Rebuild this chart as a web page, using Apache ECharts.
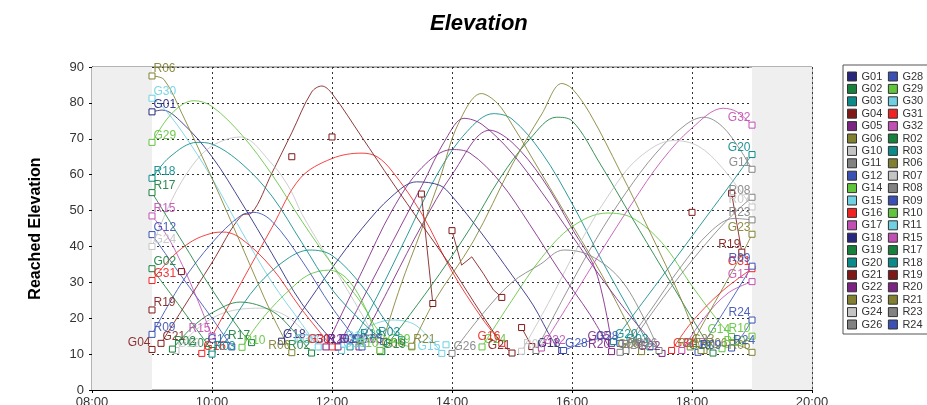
<!DOCTYPE html>
<html><head><meta charset="utf-8">
<script src="https://cdn.jsdelivr.net/npm/echarts@6/dist/echarts.min.js"></script>
<style>html,body{margin:0;padding:0;background:#fff}#c{width:927px;height:405px}</style>
</head><body><div id="c"></div>
<script>
// ---- data (time in decimal hours, elevation in degrees) ----
const yTicks = [0,10,20,30,40,50,60,70,80,90];
const xTicks = [8,10,12,14,16,18,20];
const legendNames = ['G01','G02','G03','G04','G05','G06','G10','G11','G12','G14','G15','G16','G17','G18','G19','G20','G21','G22','G23','G24','G26',
  'G28','G29','G30','G31','G32','R02','R03','R06','R07','R08','R09','R10','R11','R15','R17','R18','R19','R20','R21','R23','R24'];

const G01 = [[[9.0,77.5],[9.17,78],[9.5,74.5],[10.0,65],[10.5,52],[11.0,38],[11.5,24],[12.1,12]]];
const G02 = [[[9.0,33.8],[9.5,22.5],[10.0,11]]];
const G03 = [[[12.3,12],[12.75,26],[13.25,43],[13.75,60],[14.25,72],[14.69,77],[15.0,75.5],[15.5,66],[16.0,52],[16.5,36],[17.0,21],[17.3,12]]];
const G04 = [[[9.0,11.3]],[[9.49,33]],[[11.33,65]],[[12.0,70.5]],[[13.49,54.6],[13.68,24.1]],
  [[14.0,44.4],[14.16,34.8],[14.33,37.1],[14.52,32.5],[14.69,27.9],[14.83,25.8]],[[15.16,17.4],[15.33,12.1]],[[18.0,49.5]]];
const G05 = [[[12.45,12],[13.0,30],[13.5,46],[14.0,60],[14.63,72.4],[15.0,69],[15.5,59],[16.0,45],[16.4,33],[16.66,13]]];
const G06 = [[[12.8,11],[13.13,28.4],[13.5,45],[13.8,59],[14.1,74],[14.49,82.6],[14.75,80],[15.0,74],[15.5,60],[16.0,46],[16.5,32],[17.0,16],[17.16,10.7]]];
const G10 = [[[9.4,11],[9.75,17],[10.2,21.5],[10.8,22.8],[11.2,21],[11.5,17],[11.8,12]]];
const G11 = [[[15.4,11],[15.9,27],[16.4,42],[16.9,55],[17.4,66],[17.9,74],[18.2,76],[18.5,73.5],[18.8,67],[19.0,61.5]]];
const G12 = [[[9.0,43.3],[9.5,31.5],[10.0,20],[10.33,12]]];
const G14 = [[[14.5,12],[15.0,25],[15.5,37],[16.0,45.5],[16.58,49.3],[17.0,48],[17.5,41],[18.0,29],[18.4,20],[18.66,14.9]]];
const G15 = [[[12.16,11],[12.5,16.5],[13.0,19.5],[13.4,18],[13.83,10.2]]];
const G16 = [[[9.83,10.2],[10.0,15],[10.5,30.3],[11.0,45.3],[11.47,59],[12.0,64.5],[12.5,66],[12.75,65],[13.0,61],[13.5,49],[14.0,33],[14.5,20],[14.83,13]]];
const G17 = [[[17.83,11],[18.2,20],[18.6,27],[19.0,30.2]]];
const G18 = [[[11.16,13.6],[11.5,22],[12.0,34],[12.5,45],[13.0,54],[13.41,58],[13.8,57],[14.0,54],[14.5,43.5],[15.0,32],[15.35,23.7],[15.69,13.5],[15.83,11]]];
const G19 = [[[12.83,10.7],[13.3,21],[13.8,32.5],[14.3,45],[14.8,59],[15.3,70],[15.74,76],[16.0,75],[16.47,63],[17.0,48],[17.5,34],[18.0,20],[18.35,10.3]]];
const G20 = [[[16.69,13.5],[17.25,26],[17.75,37.2],[18.25,48.5],[18.65,57.5],[19.0,65.6]]];
const G21 = [[[9.15,13],[9.5,22.3],[10.0,35.5],[10.5,48.7],[10.66,49.3],[11.0,60.5],[11.33,71.7],[11.66,83],[11.83,84.7],[12.0,82.6],[12.5,70.4],[13.0,58],[13.5,46],[14.0,34],[14.5,21],[14.83,13],[15.0,10.3]]];
const G22 = [[[12.1,12],[12.5,25],[13.0,41],[13.5,57],[13.9,70],[14.2,75.7],[14.5,74],[15.0,66],[15.5,55],[16.0,43],[16.5,31],[17.0,20],[17.5,10.2]]];
const G23 = [[[17.97,12],[18.4,25],[18.85,38.4],[19.0,43.4]]];
const G24 = [[[9.0,40],[9.33,53],[9.67,62.5],[10.0,68],[10.47,70.5],[11.0,63],[11.3,56],[11.5,49],[12.0,35],[12.5,21],[12.8,12]]];
const G26 = [[[14.0,10.2],[14.5,21],[15.0,30],[15.47,35],[15.86,39],[16.3,37.5],[16.8,31],[17.2,20],[17.45,11]]];
const G28 = [[[15.86,11],[16.2,13.2],[16.52,14.4],[16.8,13]]];
const G29 = [[[9.0,69],[9.25,75.5],[9.5,79.5],[9.7,80.6],[10.0,79],[10.5,71],[11.0,60],[11.5,47],[12.0,35],[12.5,24],[12.8,16],[13.1,13],[13.33,12]]];
const G30 = [[[9.0,81.3],[9.17,79],[9.5,72],[10.0,59],[10.5,44],[11.0,30],[11.47,19],[11.77,12]]];
const G31 = [[[9.0,30.5],[9.33,37],[9.67,41.5],[10.0,43.7],[10.2,44],[10.5,42],[11.0,34],[11.47,23],[12.0,12]],[[17.66,11],[18.0,19],[18.5,27.5],[19.0,33.8]]];
const G32 = [[[15.49,11.7],[16.0,25.5],[16.5,39],[17.0,52],[17.5,64],[18.0,73],[18.52,78.5],[18.75,77.5],[19.0,73.8]]];
const R02 = [[[9.34,11.4],[9.67,17.5],[10.0,21.5],[10.47,24.5],[11.0,22],[11.33,17],[11.66,10.3]]];
const R03 = [[[10.0,10],[10.33,19],[10.75,29],[11.25,36.5],[11.63,39],[12.0,37.5],[12.5,29],[12.9,19],[13.16,14]]];
const R06 = [[[9.0,87.5],[9.2,86.5],[9.5,77],[10.0,59],[10.5,40],[11.0,21],[11.33,10.4]],[[18.2,11],[18.5,12.2],[18.75,12.5],[19.0,10.5]]];
const R07 = [[[15.16,10.8],[15.6,24],[16.1,40],[16.6,54],[17.1,64.5],[17.69,69.5],[18.1,68],[18.5,62],[19.0,51]]];
const R08 = [[[16.9,11],[17.4,23],[17.9,34],[18.4,44],[18.75,50],[19.0,53.7]]];
const R09 = [[[9.0,15.5],[9.5,30],[10.0,41],[10.47,48.5],[10.7,49.5],[11.0,47],[11.5,36],[12.0,23],[12.5,12]],[[18.1,10.5],[18.5,21],[19.0,34.5]]];
const R10 = [[[10.5,11.9],[10.75,18],[11.0,23],[11.3,28],[11.6,32],[11.94,33.4],[12.25,31],[12.58,22],[12.8,11]],[[18.5,11.5],[18.8,13],[19.0,15]]];
const R11 = [[[12.2,12.8]],[[13.9,12.6]]];
const R15 = [[[9.0,48.5],[9.25,43],[9.5,35],[9.75,25.5],[10.0,15]]];
const R17 = [[[9.0,55],[9.5,41.5],[10.0,28],[10.5,16],[10.66,13.2]]];
const R18 = [[[9.0,59],[9.3,65],[9.75,69],[10.0,68.5],[10.5,63],[11.0,54],[11.5,41],[12.0,28],[12.5,19],[12.86,13.5]]];
const R19 = [[[9.0,22.3]],[[18.66,54.8],[18.83,38.4]]];
const R20 = [[[11.9,12],[12.5,33],[13.0,50],[13.5,62],[14.0,67],[14.3,66],[14.8,58],[15.3,46],[15.8,33],[16.3,21],[16.66,10.7]]];
const R21 = [[[13.33,12.2],[13.7,24.6],[14.35,41.3],[15.0,62.7],[15.5,77],[15.83,85.4],[16.0,84],[16.3,77],[16.8,61],[17.3,44],[17.8,26],[18.15,11]]];
const R23 = [[[16.8,10.5],[17.3,22],[17.8,34],[18.3,44],[18.7,47.8],[19.0,47.4]]];
const R24 = [[[18.66,11.7],[18.85,15.5],[19.0,19.5]]];

const tracks = {G01,G02,G03,G04,G05,G06,G10,G11,G12,G14,G15,G16,G17,G18,G19,G20,G21,G22,G23,G24,G26,
  G28,G29,G30,G31,G32,R02,R03,R06,R07,R08,R09,R10,R11,R15,R17,R18,R19,R20,R21,R23,R24};

// ---- styling ----
const C = {navy:'#27277d',green:'#17803c',teal:'#0b8a8a',darkred:'#801818',purple:'#7d2383',olive:'#808030',
  lgrey:'#c4c4c4',grey:'#828282',blue:'#3a50b4',lgreen:'#60c43c',cyan:'#6fd0e4',red:'#f22222',mag:'#c24fb3'};
const colorOf = {G01:C.navy,G02:C.green,G03:C.teal,G04:C.darkred,G05:C.purple,G06:C.olive,G10:C.lgrey,G11:C.grey,G12:C.blue,
  G14:C.lgreen,G15:C.cyan,G16:C.red,G17:C.mag,G18:C.navy,G19:C.green,G20:C.teal,G21:C.darkred,G22:C.purple,G23:C.olive,
  G24:C.lgrey,G26:C.grey,G28:C.blue,G29:C.lgreen,G30:C.cyan,G31:C.red,G32:C.mag,R02:C.green,R03:C.teal,R06:C.olive,
  R07:C.lgrey,R08:C.grey,R09:C.blue,R10:C.lgreen,R11:C.cyan,R15:C.mag,R17:C.green,R18:C.teal,R19:C.darkred,R20:C.purple,
  R21:C.olive,R23:C.grey,R24:C.blue};
const FONT = 'Liberation Sans, Arial, sans-serif';

function buildData(name, segs){
  const col = colorOf[name];
  const data = [];
  segs.forEach((seg, si) => {
    if (si > 0) data.push(['-','-']);
    seg.forEach((p, pi) => {
      const first = pi === 0, last = pi === seg.length - 1;
      const item = {value: p};
      if (!(first || last)) { item.symbol = 'none'; data.push(item); return; }
      let lab = null;
      const quiet = (name === 'G04' && si > 0) || (name === 'R19' && si > 0 && first && seg.length > 1);
      if (!quiet) {
        if (first && (seg.length > 1 || si === 0)) lab = 'start';
        else if (last && seg.length > 1) lab = 'end';
      }
      if (lab) {
        const leftStart = (name === 'G04');
        const pos = (lab === 'start' && !leftStart) ? 'right' : 'left';
        item.label = {show:true, formatter:name, position:pos, offset: pos==='right' ? [-7,-7] : [7,-7],
          color: col, fontSize: 12, fontFamily: FONT, opacity: 0.9};
      }
      data.push(item);
    });
  });
  return data;
}

const series = [{
  type:'line', name:'__bg', data:[], z:-1, silent:true,
  markArea:{silent:true, itemStyle:{color:'#efefef'}, data:[[{xAxis:8},{xAxis:9}],[{xAxis:19},{xAxis:20}]]}
}];
legendNames.forEach(n => {
  const segs = tracks[n] || [];
  series.push({
    type:'line', name:n, data: buildData(n, segs),
    smooth: (n === 'G04' || n === 'R19') ? false : 0.35,
    connectNulls:false, showSymbol:true, showAllSymbol:true,
    symbol:'rect', symbolSize:6,
    itemStyle:{color:'#fff', borderColor: colorOf[n], borderWidth:1},
    lineStyle:{color: colorOf[n], width:1, opacity:0.85},
    emphasis:{disabled:true}, animation:false
  });
});

const chart = echarts.init(document.getElementById('c'), null, {renderer:'canvas'});
chart.setOption({
  animation:false,
  backgroundColor:'#fff',
  textStyle:{fontFamily:FONT},
  title:{text:'Elevation', left:425, top:8,
    textStyle:{fontSize:22, fontWeight:'bold', fontStyle:'italic', color:'#000', fontFamily:FONT}},
  grid:{left:92, right:115, top:67, bottom:15, show:true, borderColor:'#666', borderWidth:1,
    backgroundColor:'transparent', containLabel:false, outerBoundsMode:'none'},
  legend:{
    data: legendNames.map(n => ({name:n, itemStyle:{color: colorOf[n], borderColor:'#333', borderWidth:1}})),
    orient:'vertical', left:843, top:65, height:264,
    padding:[6,4,4,4], itemWidth:9, itemHeight:9, itemGap:1.4,
    icon:'rect', borderColor:'#555', borderWidth:1, backgroundColor:'#fff',
    textStyle:{fontSize:11, color:'#333', fontFamily:FONT, width:25, lineHeight:11},
    selectedMode:false
  },
  xAxis:{type:'value', min:xTicks[0], max:xTicks[xTicks.length-1], interval:2,
    axisLine:{show:true, lineStyle:{color:'#000'}},
    axisTick:{show:true, length:3, lineStyle:{color:'#000'}},
    axisLabel:{fontSize:13, color:'#333', margin:6, fontFamily:FONT,
      formatter: v => (v < 10 ? '0' : '') + v + ':00'},
    splitLine:{show:true, lineStyle:{color:'#333', type:[2,3]}}
  },
  yAxis:{type:'value', min:yTicks[0], max:yTicks[yTicks.length-1], interval:10,
    name:'Reached Elevation', nameLocation:'middle', nameGap:48,
    nameTextStyle:{fontSize:16, fontWeight:'bold', color:'#000', fontFamily:FONT},
    axisLine:{show:true, lineStyle:{color:'#000'}},
    axisTick:{show:true, length:3, lineStyle:{color:'#000'}},
    axisLabel:{fontSize:13, color:'#333', margin:8, fontFamily:FONT},
    splitLine:{show:true, lineStyle:{color:'#333', type:[2,3]}}
  },
  series: series
});
</script>
</body></html>
